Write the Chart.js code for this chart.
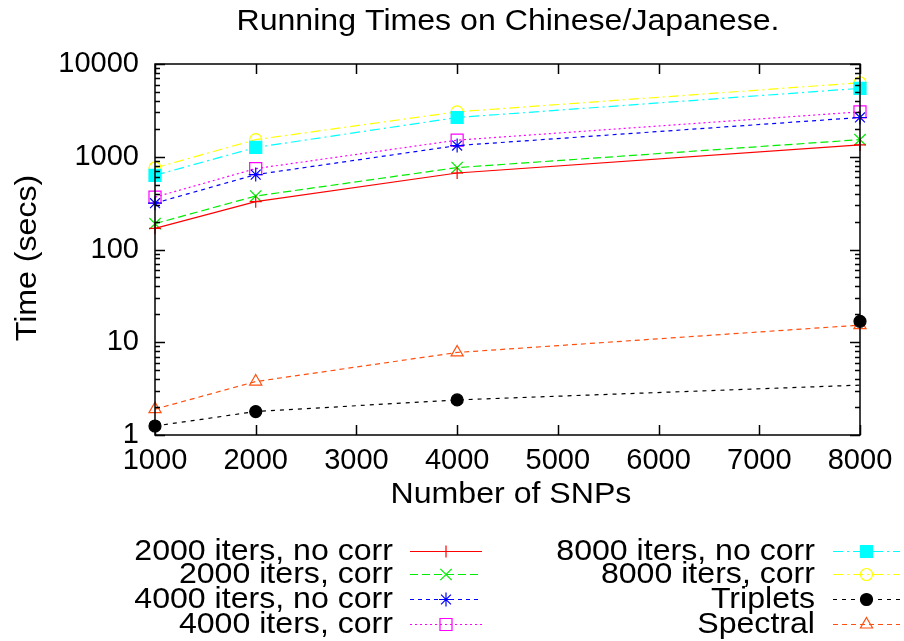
<!DOCTYPE html>
<html>
<head>
<meta charset="utf-8">
<title>Running Times on Chinese/Japanese.</title>
<script src="https://cdn.jsdelivr.net/npm/chart.js@4/dist/chart.umd.min.js"></script>
<style>
  html, body { margin: 0; padding: 0; background: #fff; }
  #wrap { width: 904px; height: 641px; }
</style>
</head>
<body>
<div id="wrap"><canvas id="timesChart" width="904" height="641"></canvas></div>
<script>
const snps = [1000, 2000, 4000, 8000];

const iters2000NoCorr = [169, 328, 668, 1340];
const iters2000Corr = [190, 377, 764, 1530];
const iters4000NoCorr = [316, 642, 1320, 2650];
const iters4000Corr = [367, 745, 1510, 3050];
const iters8000NoCorr = [631, 1260, 2650, 5460];
const iters8000Corr = [757, 1530, 3050, 6280];
const tripletsPts = [1.25, 1.79, 2.39, 16.8];
const tripletsLine = [1.25, 1.79, 2.39, 3.45];
const spectral = [1.9, 3.77, 7.76, 15.3];

const xTicks = [1000, 2000, 3000, 4000, 5000, 6000, 7000, 8000];
const yTicks = [1, 10, 100, 1000, 10000];

const FONT = "'Liberation Sans', Arial, sans-serif";

function pts(vals) {
    return snps.map((x, i) => ({ x: x, y: vals[i] }));
}

// one entry per series: line colour, dash, marker
const series = [
    { label: '2000 iters, no corr', data: iters2000NoCorr, color: '#ff0000', dash: [], style: 'cross', r: 6, fill: false },
    { label: '2000 iters, corr', data: iters2000Corr, color: '#00ee00', dash: [8, 4], style: 'crossRot', r: 8, fill: false },
    { label: '4000 iters, no corr', data: iters4000NoCorr, color: '#0000ff', dash: [4, 4], style: 'star', r: 7, fill: false },
    { label: '4000 iters, corr', data: iters4000Corr, color: '#ff00ff', dash: [2, 3], style: 'rect', r: 8.5, fill: false },
    { label: '8000 iters, no corr', data: iters8000NoCorr, color: '#00ffff', dash: [10, 4, 2, 4], style: 'rect', r: 8.5, fill: true },
    { label: '8000 iters, corr', data: iters8000Corr, color: '#ffff00', dash: [10, 4, 2, 4], style: 'circle', r: 6, fill: false },
    { label: 'Triplets', data: tripletsPts, line: tripletsLine, color: '#000000', dash: [4, 5], style: 'circle', r: 6, fill: true },
    { label: 'Spectral', data: spectral, color: '#ff5010', dash: [5, 4], style: 'triangle', r: 7, fill: false }
];

const datasets = [];
series.forEach(s => {
    if (s.line) {
        datasets.push({
            label: s.label + ' line',
            data: pts(s.line),
            borderColor: s.color,
            borderWidth: 1.2,
            borderDash: s.dash,
            pointRadius: 0,
            clip: false
        });
    }
    datasets.push({
        label: s.label,
        data: pts(s.data),
        showLine: !s.line,
        borderColor: s.color,
        borderWidth: 1.2,
        borderDash: s.dash,
        pointStyle: s.style,
        pointRadius: s.r,
        pointBorderWidth: 1.2,
        pointBorderColor: s.color,
        pointBackgroundColor: s.fill ? s.color : 'rgba(0,0,0,0)',
        clip: false
    });
});

function marker(ctx, s, x, y) {
    ctx.save();
    ctx.setLineDash([]);
    ctx.strokeStyle = s.color;
    ctx.fillStyle = s.fill ? s.color : 'rgba(0,0,0,0)';
    ctx.lineWidth = 1.2;
    Chart.helpers.drawPoint(ctx, { pointStyle: s.style, radius: s.r, borderWidth: 1.2, rotation: 0 }, x, y);
    ctx.restore();
}

// text a little wider than the plain font
function wideText(ctx, str, x, y, rot) {
    ctx.save();
    ctx.translate(x, y);
    if (rot) ctx.rotate(rot);
    ctx.scale(1.07, 1);
    ctx.fillText(str, 0, 0);
    ctx.restore();
}

// gnuplot-like frame: box, inward ticks on all sides, log minor ticks, texts, legend
const framePlugin = {
    id: 'frame',
    afterDatasetsDraw(chart) {
        const ctx = chart.ctx;
        const a = chart.chartArea;
        const xs = chart.scales.x, ys = chart.scales.y;
        ctx.save();
        ctx.strokeStyle = '#000';
        ctx.lineWidth = 1.5;
        ctx.setLineDash([]);
        ctx.strokeRect(a.left, a.top, a.right - a.left, a.bottom - a.top);
        ctx.beginPath();
        xTicks.forEach(v => {
            const px = Math.round(xs.getPixelForValue(v)) + 0.5;
            ctx.moveTo(px, a.bottom); ctx.lineTo(px, a.bottom - 10);
            ctx.moveTo(px, a.top); ctx.lineTo(px, a.top + 10);
        });
        for (let d = 1; d <= 10000; d *= 10) {
            for (let m = 1; m < 10; m++) {
                const v = d * m;
                if (v > 10000) break;
                const py = Math.round(ys.getPixelForValue(v)) + 0.5;
                const len = m === 1 ? 10 : 5;
                ctx.moveTo(a.left, py); ctx.lineTo(a.left + len, py);
                ctx.moveTo(a.right, py); ctx.lineTo(a.right - len, py);
            }
        }
        ctx.stroke();

        ctx.fillStyle = '#000';
        ctx.font = '30px ' + FONT;
        ctx.textAlign = 'center';
        ctx.textBaseline = 'middle';
        wideText(ctx, 'Running Times on Chinese/Japanese.', 508, 22);
        wideText(ctx, 'Number of SNPs', 511, 495);
        wideText(ctx, 'Time (secs)', 28, 258, -Math.PI / 2);

        // legend, two columns of four
        const cols = [
            { textRight: 393, x1: 410, x2: 482 },
            { textRight: 815, x1: 833, x2: 900 }
        ];
        const rows = [551, 574, 599, 624];
        ctx.textAlign = 'right';
        series.forEach((s, i) => {
            const c = cols[Math.floor(i / 4)];
            const y = rows[i % 4];
            ctx.fillStyle = '#000';
            wideText(ctx, s.label, c.textRight, y + 1);
            ctx.save();
            ctx.strokeStyle = s.color;
            ctx.lineWidth = 1.2;
            ctx.setLineDash(s.dash);
            ctx.beginPath();
            ctx.moveTo(c.x1, y + 0.5);
            ctx.lineTo(c.x2, y + 0.5);
            ctx.stroke();
            ctx.restore();
            marker(ctx, s, (c.x1 + c.x2) / 2, y + 0.5);
        });
        ctx.restore();
    }
};

new Chart(document.getElementById('timesChart'), {
    type: 'line',
    data: { datasets: datasets },
    options: {
        responsive: false,
        animation: false,
        layout: { padding: { left: 0, right: 44, top: 64, bottom: 156 } },
        plugins: { legend: { display: false }, title: { display: false }, tooltip: { enabled: false } },
        scales: {
            x: {
                type: 'linear',
                min: 1000,
                max: 8000,
                afterFit(scale) { scale.height = 50; },
                afterBuildTicks(scale) { scale.ticks = xTicks.map(v => ({ value: v })); },
                grid: { display: false, drawTicks: false },
                border: { display: false },
                ticks: { color: '#000', font: { family: FONT, size: 29 }, padding: 9, maxRotation: 0, autoSkip: false, callback: v => String(v) }
            },
            y: {
                type: 'logarithmic',
                min: 1,
                max: 10000,
                afterFit(scale) { scale.width = 155; },
                afterBuildTicks(scale) { scale.ticks = yTicks.map(v => ({ value: v })); },
                grid: { display: false, drawTicks: false },
                border: { display: false },
                ticks: { color: '#000', font: { family: FONT, size: 29 }, padding: 16, callback: v => String(v) }
            }
        }
    },
    plugins: [framePlugin]
});
</script>
</body>
</html>
